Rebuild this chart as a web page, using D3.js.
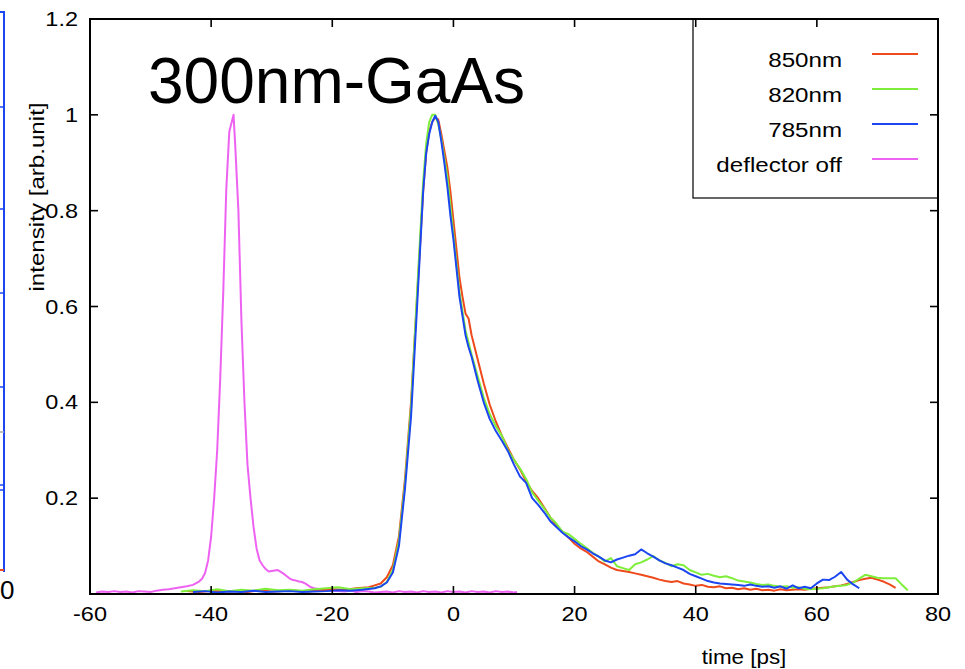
<!DOCTYPE html>
<html><head><meta charset="utf-8">
<script src="https://cdn.jsdelivr.net/npm/d3@7"></script>
<style>body{margin:0;background:#fff}svg{display:block}text{font-family:"Liberation Sans",Arial,Helvetica,sans-serif}</style>
</head><body>
<svg id="c" width="965" height="669"></svg>
<script>
// ---------- data ----------
const xTicks = [-60,-40,-20,0,20,40,60,80];
const yTicks = [0.2,0.4,0.6,0.8,1.0,1.2];
const seriesNames = ["850nm","820nm","785nm","deflector off"];
const seriesColors = ["#ee4a1c","#7fee3a","#1b46f2","#ee62f2"];

const t850 = [-44,-42,-40,-38,-36,-34,-32,-30,-28,-26,-24,-22,-20,-18,-16,-14,-13,-12,-11,-10,-9,-8,-7,-6,-5,-4.5,-4,-3.5,-3,-2.5,-2,-1.5,-1,-0.5,0,0.5,1,1.5,2,2.5,3,4,5,6,7,8,9,10,11,12,13,14,15,16,17,18,19,20,21,22,23,24,25,26,27,28,29,30,31,32,33,34,35,36,37,38,39,40,41,42,43,44,45,46,47,48,49,50,51,52,53,54,55,56,57,58,59,60,61,62,63,64,65,66,67,68,69,70,71,72,73];
const v850 = [0.006,0.004,0.007,0.005,0.006,0.004,0.008,0.005,0.006,0.007,0.005,0.008,0.010,0.009,0.012,0.014,0.018,0.022,0.035,0.060,0.12,0.24,0.40,0.62,0.84,0.92,0.965,0.985,0.995,0.99,0.96,0.925,0.89,0.84,0.78,0.72,0.66,0.62,0.585,0.575,0.54,0.49,0.44,0.395,0.36,0.33,0.305,0.28,0.26,0.235,0.215,0.20,0.18,0.16,0.143,0.13,0.118,0.105,0.095,0.088,0.078,0.068,0.062,0.055,0.050,0.048,0.046,0.043,0.040,0.037,0.034,0.030,0.027,0.025,0.027,0.022,0.020,0.017,0.019,0.015,0.014,0.016,0.012,0.013,0.010,0.012,0.009,0.011,0.008,0.009,0.007,0.010,0.008,0.009,0.010,0.009,0.011,0.012,0.013,0.014,0.016,0.018,0.021,0.025,0.029,0.032,0.034,0.030,0.026,0.020,0.013];

const t820 = [-45,-43,-41,-39,-37,-35,-33,-31,-29,-27,-25,-23,-21,-19,-17,-15,-13,-12,-11,-10,-9,-8,-7,-6,-5,-4.5,-4,-3.5,-3,-2.5,-2,-1.5,-1,-0.5,0,0.5,1,1.5,2,2.5,3,4,5,6,7,8,9,10,11,12,13,14,15,16,17,18,19,20,21,22,23,24,25,26,27,28,29,30,31,32,33,34,35,36,37,38,39,40,41,42,43,44,45,46,47,48,49,50,51,52,53,54,55,56,57,58,59,60,61,62,63,64,65,66,67,68,69,70,71,72,73,74,75];
const v820 = [0.005,0.008,0.006,0.010,0.006,0.009,0.007,0.011,0.008,0.009,0.007,0.010,0.012,0.014,0.010,0.012,0.013,0.015,0.025,0.050,0.11,0.23,0.39,0.63,0.86,0.94,0.985,1.0,1.0,0.98,0.95,0.91,0.87,0.81,0.75,0.69,0.63,0.59,0.55,0.525,0.50,0.455,0.41,0.375,0.35,0.33,0.30,0.28,0.262,0.24,0.212,0.195,0.178,0.16,0.147,0.13,0.125,0.115,0.105,0.096,0.086,0.078,0.068,0.075,0.058,0.054,0.050,0.062,0.066,0.072,0.079,0.070,0.065,0.058,0.062,0.060,0.050,0.045,0.040,0.042,0.038,0.035,0.037,0.033,0.028,0.026,0.024,0.021,0.019,0.020,0.017,0.015,0.016,0.013,0.014,0.011,0.010,0.011,0.012,0.014,0.016,0.017,0.019,0.024,0.032,0.040,0.037,0.034,0.033,0.033,0.033,0.020,0.008];

const t785 = [-43,-41,-39,-37,-35,-33,-31,-29,-27,-25,-23,-21,-19,-17,-15,-13,-12,-11,-10,-9,-8,-7,-6,-5,-4.5,-4,-3.5,-3,-2.5,-2,-1.5,-1,-0.5,0,0.5,1,1.5,2,2.5,3,4,5,6,7,8,9,10,11,12,13,14,15,16,17,18,19,20,21,22,23,24,25,26,27,28,29,30,31,32,33,34,35,36,37,38,39,40,41,42,43,44,45,46,47,48,49,50,51,52,53,54,55,56,57,58,59,60,61,62,63,64,65,66,67];
const v785 = [0.004,0.006,0.003,0.005,0.004,0.007,0.004,0.005,0.006,0.004,0.005,0.006,0.008,0.007,0.009,0.012,0.016,0.024,0.045,0.10,0.22,0.37,0.60,0.84,0.92,0.96,0.985,0.998,0.985,0.945,0.90,0.85,0.79,0.74,0.68,0.62,0.58,0.54,0.515,0.495,0.445,0.40,0.365,0.34,0.32,0.298,0.27,0.245,0.232,0.20,0.186,0.17,0.152,0.14,0.128,0.118,0.11,0.10,0.093,0.085,0.078,0.070,0.066,0.072,0.076,0.080,0.083,0.093,0.085,0.078,0.070,0.064,0.060,0.055,0.050,0.042,0.037,0.032,0.027,0.024,0.022,0.021,0.020,0.019,0.017,0.020,0.017,0.015,0.016,0.013,0.016,0.011,0.018,0.012,0.015,0.012,0.022,0.030,0.029,0.036,0.046,0.030,0.020,0.012];

const tOff = [-59,-58,-57,-56,-55,-54,-53,-52,-51,-50,-49,-48,-47,-46,-45,-44,-43,-42,-41.5,-41,-40.5,-40,-39.5,-39,-38.5,-38,-37.5,-37,-36.5,-36.3,-36,-35.5,-35,-34.5,-34,-33.5,-33,-32.5,-32,-31.5,-31,-30.5,-30,-29.5,-29,-28.5,-28,-27.5,-27,-26.5,-26,-25.5,-25,-24.5,-24,-23.5,-23,-22,-21,-20,-19,-18,-17,-16,-15,-14,-13,-12,-11,-10,-9,-8,-7,-6,-5,-4,-3,-2,-1,0,1,2,3,4,5,6,7,8,9,10,10.5];
const vOff = [0.003,0.005,0.004,0.006,0.004,0.005,0.003,0.006,0.005,0.004,0.007,0.009,0.010,0.012,0.014,0.016,0.019,0.026,0.032,0.044,0.070,0.12,0.20,0.30,0.45,0.63,0.845,0.965,0.99,1.0,0.93,0.80,0.57,0.40,0.27,0.20,0.14,0.095,0.070,0.060,0.052,0.047,0.048,0.049,0.050,0.046,0.042,0.037,0.032,0.029,0.028,0.026,0.025,0.022,0.018,0.014,0.012,0.010,0.008,0.007,0.006,0.005,0.007,0.004,0.006,0.005,0.003,0.004,0.005,0.003,0.006,0.004,0.005,0.003,0.006,0.004,0.005,0.003,0.006,0.004,0.005,0.003,0.006,0.004,0.005,0.003,0.006,0.004,0.005,0.003,0.004];

const seriesT = [t850,t820,t785,tOff];
const seriesV = [v850,v820,v785,vOff];

// ---------- drawing ----------
const svg = d3.select("#c");
const L = 90, R = 938, T = 19, B = 594;
const x = d3.scaleLinear().domain([-60,80]).range([L,R]);
const y = d3.scaleLinear().domain([0,1.2]).range([B,T]);
const SX = 1.12;

function wtext(g, tx, ty, str, size, anchor, sx){
  return g.append("text").attr("transform",`translate(${tx},${ty}) scale(${sx||SX},1)`)
    .attr("text-anchor",anchor).attr("font-size",size).attr("fill","#000").text(str);
}

// left-edge remnants of neighbouring figure
const edge = svg.append("g");
edge.append("path").attr("d","M0,12H4V572").attr("fill","none").attr("stroke","#1b46f2").attr("stroke-width",2);
[107,209,293,387,485,490].forEach(v=>edge.append("line").attr("x1",0).attr("x2",4).attr("y1",v).attr("y2",v).attr("stroke","#1b46f2").attr("stroke-width",1.5));
edge.append("line").attr("x1",0).attr("x2",4).attr("y1",432).attr("y2",432).attr("stroke","#aaa").attr("stroke-width",1.5);
edge.append("line").attr("x1",0).attr("x2",4).attr("y1",570).attr("y2",570).attr("stroke","#ee4a1c").attr("stroke-width",2);
edge.append("text").attr("x",0).attr("y",599).attr("font-family","'Liberation Serif',serif").attr("font-size",26).text("0");

// clip
svg.append("clipPath").attr("id","clip").append("rect").attr("x",L).attr("y",T).attr("width",R-L).attr("height",B-T);

// curves
const line = d3.line().x(d=>x(d[0])).y(d=>y(d[1]));
const curves = svg.append("g").attr("clip-path","url(#clip)");
[3,0,1,2].forEach(i=>{
  const pts = seriesT[i].map((t,k)=>[t,seriesV[i][k]]);
  curves.append("path").datum(pts).attr("d",line).attr("fill","none")
    .attr("stroke",seriesColors[i]).attr("stroke-width",2).attr("stroke-linejoin","round");
});

// axes (inward ticks on all four sides)
const ax = svg.append("g");
const tk = 8;
xTicks.slice(1,-1).forEach(v=>{
  ax.append("line").attr("x1",x(v)).attr("x2",x(v)).attr("y1",B).attr("y2",B-tk).attr("stroke","#000").attr("stroke-width",1.6);
  ax.append("line").attr("x1",x(v)).attr("x2",x(v)).attr("y1",T).attr("y2",T+tk).attr("stroke","#000").attr("stroke-width",1.6);
});
yTicks.slice(0,-1).forEach(v=>{
  ax.append("line").attr("x1",L).attr("x2",L+tk).attr("y1",y(v)).attr("y2",y(v)).attr("stroke","#000").attr("stroke-width",1.6);
  ax.append("line").attr("x1",R).attr("x2",R-tk).attr("y1",y(v)).attr("y2",y(v)).attr("stroke","#000").attr("stroke-width",1.6);
});
xTicks.forEach(v=>wtext(ax, x(v), 621, d3.format("")(v).replace("−","-"), 21, "middle"));
yTicks.forEach(v=>wtext(ax, 78, y(v)+7, v===1?"1":d3.format(".1f")(v), 21, "end"));

// legend box
const lg = svg.append("g");
lg.append("rect").attr("x",693).attr("y",T).attr("width",R-693).attr("height",198-T).attr("fill","#fff").attr("stroke","#000").attr("stroke-width",1.2);
const rowsY = [67,102,137,172];
seriesNames.forEach((n,i)=>{
  wtext(lg, 842, rowsY[i], n, 21, "end", 1.15);
  lg.append("line").attr("x1",872).attr("x2",918).attr("y1",rowsY[i]-13).attr("y2",rowsY[i]-13)
    .attr("stroke",seriesColors[i]).attr("stroke-width",2);
});
lg.append("line").attr("x1",R).attr("x2",R-tk).attr("y1",y(1)).attr("y2",y(1)).attr("stroke","#000").attr("stroke-width",1.6);
[40,60].forEach(v=>lg.append("line").attr("x1",x(v)).attr("x2",x(v)).attr("y1",T).attr("y2",T+tk).attr("stroke","#000").attr("stroke-width",1.6));

// frame
svg.append("rect").attr("x",L).attr("y",T).attr("width",R-L).attr("height",B-T).attr("fill","none").attr("stroke","#000").attr("stroke-width",2);

// axis titles
wtext(svg, 744, 664, "time [ps]", 20, "middle");
svg.append("text").attr("transform","translate(44,197) rotate(-90) scale(1.15,1)").attr("text-anchor","middle")
  .attr("font-size",21).text("intensity [arb.unit]");

// big label
svg.append("text").attr("x",148).attr("y",103).attr("font-size",64).attr("fill","#000").text("300nm-GaAs");
</script>
</body></html>
